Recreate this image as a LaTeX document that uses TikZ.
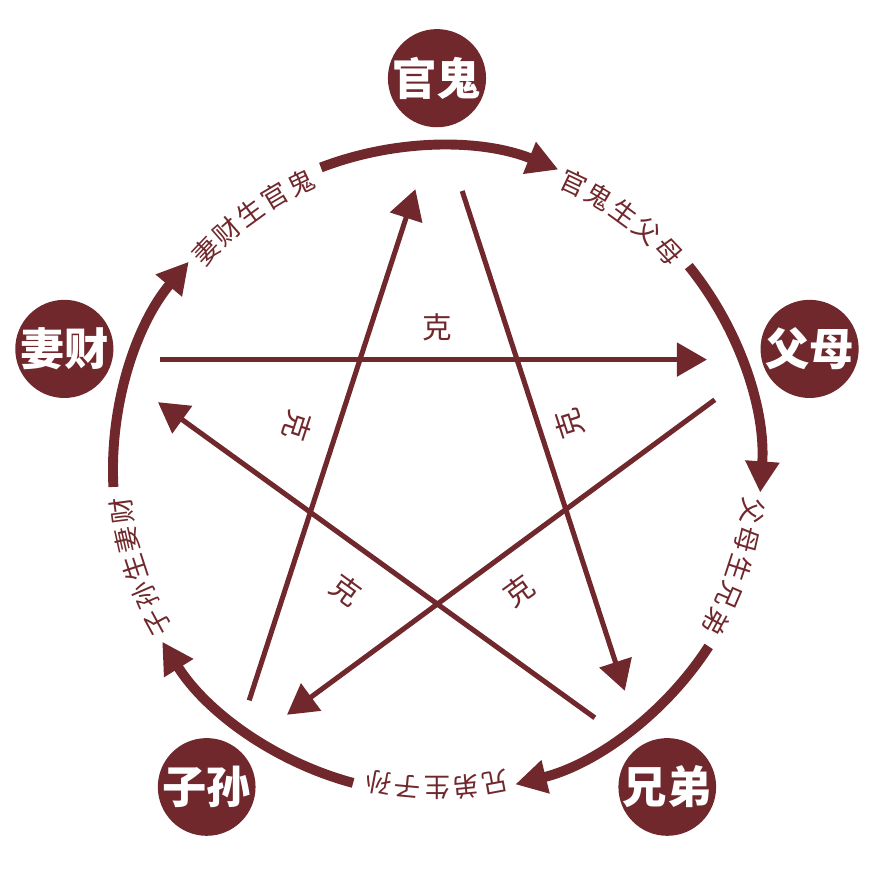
\documentclass[tikz,border=0pt]{standalone}
\usepackage{fontspec}
\newfontfamily\cjk{Noto Sans CJK SC}
\usepackage{xcolor}
\usepackage{tikz}
\usetikzlibrary{arrows.meta,calc}
\definecolor{hong}{RGB}{112,40,44}

\begin{document}
\begin{tikzpicture}[
	liu/.style={circle,fill=hong,text=white,minimum size=1.6cm,inner sep=0pt,font=\cjk\bfseries\fontsize{21}{21}\selectfont},
	sheng/.style={hong,line width=4.7pt,-{Triangle[length=0.52cm,width=0.54cm]}},
	ke/.style={hong,line width=2.4pt,-{Triangle[length=0.5cm,width=0.55cm]}},
	kezi/.style={text=hong,inner sep=0pt,font=\cjk\fontsize{14}{14}\selectfont},
	shengzi/.style={text=hong,inner sep=0pt,font=\cjk\fontsize{12.5}{12.5}\selectfont}]
	\useasboundingbox (-7.283,-6.717) rectangle (7.267,7.833);
	% the five relatives
	\node[liu] (guan) at (90:6.53) {官鬼};
	\node[liu] (fu) at (18:6.53) {父母};
	\node[liu] (xiong) at (-54:6.53) {兄弟};
	\node[liu] (zi) at (-126:6.53) {子孙};
	\node[liu] (qi) at (162:6.53) {妻财};
	% outer ring: sheng
	\foreach \a/\ci in {90/{官,鬼,生,父,母},18/{父,母,生,兄,弟},-54/{兄,弟,生,子,孙},-126/{子,孙,生,妻,财},162/{妻,财,生,官,鬼}}{
		\draw[sheng] ({\a+21}:5.4) arc[start angle=\a+21,end angle=\a-22,radius=5.4];
		\foreach \c [count=\k] in \ci
			\node[shengzi,rotate={\a-126+(3-\k)*5.3}] (z\a-\k) at ({\a-36+(3-\k)*5.3}:5.3) {\c};
	}
	% inner star: ke
	\coordinate (k1a) at (0.42,4.65);
	\coordinate (k1b) at (3.13,-3.68);
	\coordinate (k2a) at (-4.62,1.84);
	\coordinate (k2b) at (4.5,1.84);
	\coordinate (k3a) at (4.63,1.17);
	\coordinate (k3b) at (-2.5,-4.08);
	\coordinate (k4a) at (-3.13,-3.84);
	\coordinate (k4b) at (-0.36,4.68);
	\coordinate (k5a) at (2.63,-4.13);
	\coordinate (k5b) at (-4.65,1.13);
	\draw[ke] (k1a) -- (k1b);
	\draw[ke] (k2a) -- (k2b);
	\draw[ke] (k3a) -- (k3b);
	\draw[ke] (k4a) -- (k4b);
	\draw[ke] (k5a) -- (k5b);
	\node[kezi,rotate=108] (ke1) at ($(k1a)!.485!(k1b)!0.5cm!90:(k1b)$) {克};
	\node[kezi] (ke2) at ($(k2a)!.507!(k2b)!0.53cm!90:(k2b)$) {克};
	\node[kezi,rotate=36] (ke3) at ($(k3a)!.51!(k3b)!0.63cm!90:(k3b)$) {克};
	\node[kezi,rotate=-108] (ke4) at ($(k4a)!.513!(k4b)!0.65cm!90:(k4b)$) {克};
	\node[kezi,rotate=-36] (ke5) at ($(k5a)!.513!(k5b)!0.7cm!90:(k5b)$) {克};
\end{tikzpicture}
\end{document}
